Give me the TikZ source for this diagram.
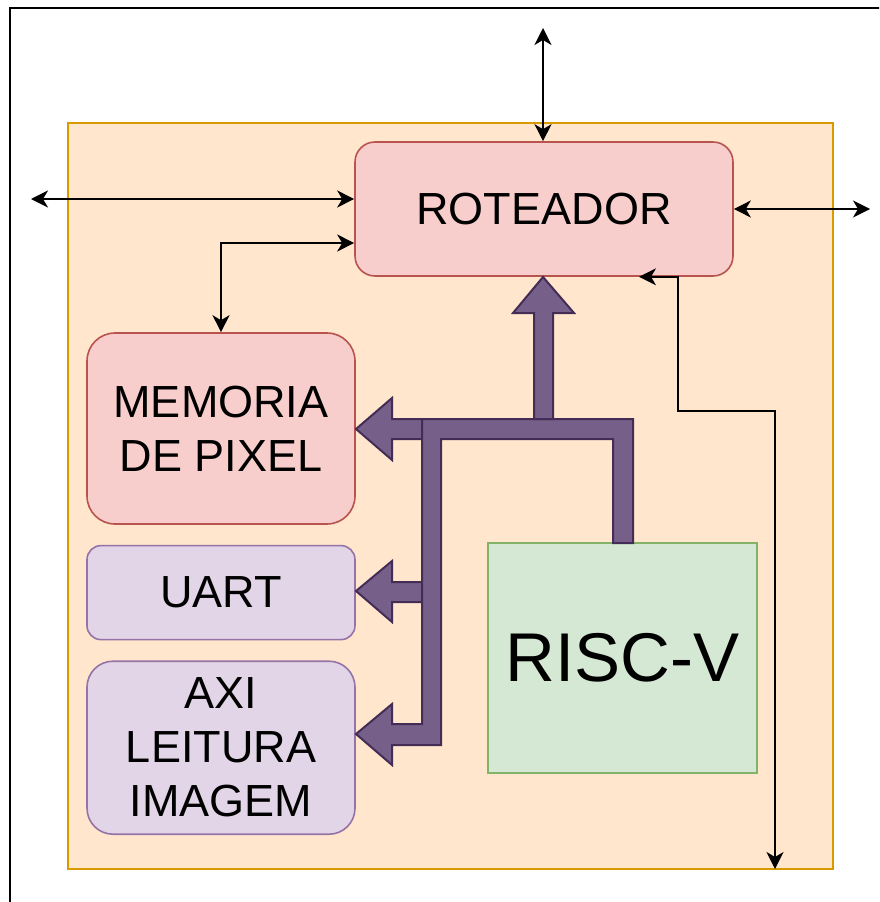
\documentclass[tikz,border=0pt]{standalone}
\usepackage{fontspec}
\setmainfont{Liberation Sans}
\usetikzlibrary{positioning,arrows.meta}
\definecolor{dworange}{HTML}{FFE6CC}
\definecolor{dworangeline}{HTML}{D79B00}
\definecolor{dwred}{HTML}{F8CECC}
\definecolor{dwredline}{HTML}{B85450}
\definecolor{dwpurple}{HTML}{E1D5E7}
\definecolor{dwpurpleline}{HTML}{9673A6}
\definecolor{dwgreen}{HTML}{D5E8D4}
\definecolor{dwgreenline}{HTML}{82B366}
\definecolor{dwbus}{HTML}{76608A}
\definecolor{dwbusline}{HTML}{432D57}

\begin{document}
\begin{tikzpicture}[x=1pt,y=-1pt,font=\fontsize{45}{54}\selectfont]
  \tikzstyle{blk}=[draw,line width=1.6pt,align=center,inner sep=0pt]
  \tikzstyle{link}=[{Stealth[length=17pt,width=17pt,inset=5pt]}-{Stealth[length=17pt,width=17pt,inset=5pt]},line width=1.6pt]
  \tikzstyle{bus}=[fill=dwbus,draw=dwbusline,line width=2pt]
  \useasboundingbox (0,0) rectangle (879,902);
  \clip (0,0) rectangle (879,902);
  \draw[line width=1.8pt] (10,8) rectangle (900,920);
  \node[blk,fill=dworange,draw=dworangeline,line width=2pt,minimum width=765pt,minimum height=746pt] (noc) at (450.5,496) {};
  \node[blk,fill=dwred,draw=dwredline,rounded corners=20pt,minimum width=378pt,minimum height=134pt] (roteador) at (544,209) {ROTEADOR};
  \node[blk,fill=dwred,draw=dwredline,rounded corners=28pt,minimum width=268pt,minimum height=191pt] (memoria) at (221,428.5) {MEMORIA\\DE PIXEL};
  \node[blk,fill=dwpurple,draw=dwpurpleline,rounded corners=14pt,minimum width=268pt,minimum height=94pt,below=20pt of memoria] (uart) {UART};
  \node[blk,fill=dwpurple,draw=dwpurpleline,rounded corners=26pt,minimum width=268pt,minimum height=173pt,below=20pt of uart] (axi) {AXI\\LEITURA\\IMAGEM};
  \node[blk,fill=dwgreen,draw=dwgreenline,minimum width=269pt,minimum height=230pt,font=\fontsize{69}{83}\selectfont] (riscv) at (622.5,658) {RISC-V};
  % external links of the router
  \coordinate (topend) at (543,28);
  \coordinate (leftend) at (31,199);
  \coordinate (rightend) at (870,209);
  \coordinate (bottomend) at (775,869);
  \draw[link] (topend) -- (topend |- roteador.north);
  \draw[link] (leftend) -- (leftend -| roteador.west);
  \draw[link] (roteador.east) -- (rightend);
  \draw[link] (memoria.north) |- ([yshift=-34pt]roteador.west);
  \draw[link] ([xshift=95pt]roteador.south) -- ++(39,0) -- ++(0,134) -| (bottomend);
  % bus
  \draw[bus] (422,419) -- (392,419) -- (392,398) -- (356,429) -- (392,460) -- (392,439) -- (422,439) -- cycle;
  \draw[bus] (422,582) -- (392,582) -- (392,561) -- (356,591) -- (392,622) -- (392,602) -- (422,602) -- cycle;
  \draw[bus] (613,543) -- (613,439) -- (441,439) -- (441,745) -- (392,745) -- (392,765) -- (356,734)
        -- (392,704) -- (392,724) -- (422,724) -- (422,419) -- (633,419) -- (633,543) -- cycle;
  \draw[bus] (534,419) -- (534,313) -- (513,313) -- (543,277) -- (574,313) -- (553,313) -- (553,419) -- cycle;
\end{tikzpicture}
\end{document}
